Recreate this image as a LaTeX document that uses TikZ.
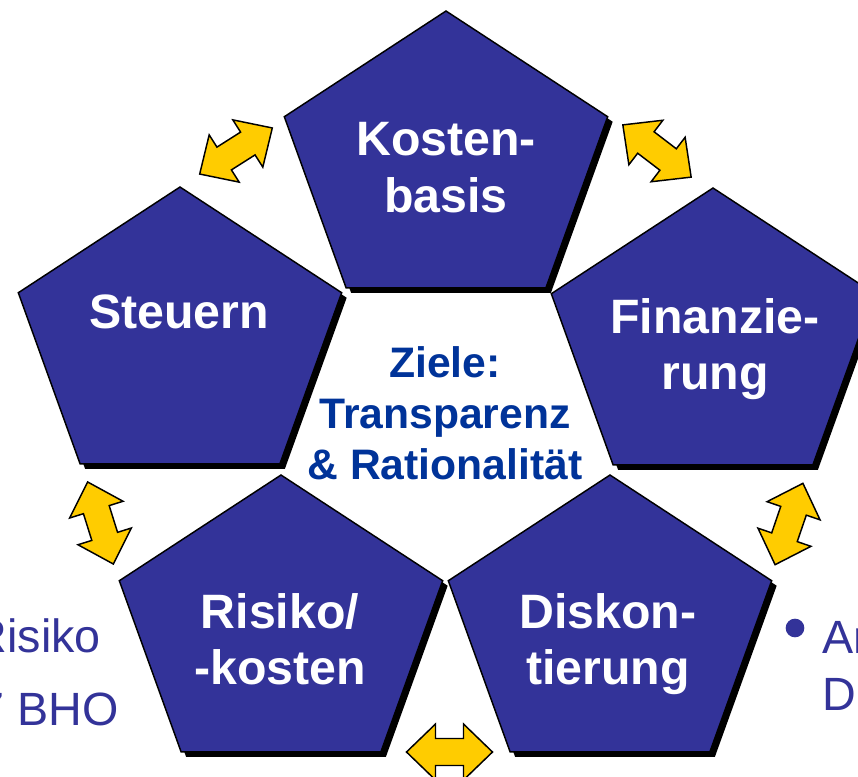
\documentclass[tikz,border=0pt]{standalone}
\usepackage{fontspec}
\setmainfont{Liberation Sans}
\definecolor{pentblue}{RGB}{51,51,153}
\definecolor{zielblue}{RGB}{0,51,153}
\definecolor{arrowyellow}{RGB}{255,204,0}

\tikzset{
	pentagon/.pic = {
		\fill[black, shift = {(5,5)}] (-90:170 and 153) -- (-162:170 and 153) -- (-234:170 and 153) -- (-306:170 and 153) -- (-18:170 and 153) -- cycle;
		\draw[fill = pentblue, line width = 1.1pt] (-90:170 and 153) -- (-162:170 and 153) -- (-234:170 and 153) -- (-306:170 and 153) -- (-18:170 and 153) -- cycle;
	},
	dblarrow/.pic = {
		\draw[fill = arrowyellow, line width = 1.1pt] (-43,0) -- (-14,-28) -- (-14,-13.5) -- (14,-13.5) -- (14,-28) -- (43,0) -- (14,28) -- (14,13.5) -- (-14,13.5) -- (-14,28) -- cycle;
	}
}

\begin{document}
\begin{tikzpicture}[x = 0.75pt, y = -0.75pt,
	penttext/.style = {text = white, font = \fontsize{36.2}{42.5}\selectfont\bfseries, align = center, inner sep = 0pt, anchor = north},
	sidetext/.style = {text = pentblue, font = \fontsize{35}{41}\selectfont, inner sep = 0pt}]
	\useasboundingbox (0,0) rectangle (858,776);
	\clip (0,0) rectangle (858,776);

	\foreach \n/\x/\y in {kosten/446/164, steuern/180/340, finanz/713/341, risiko/281/628, diskont/610/628}
		\coordinate (\n) at (\x,\y);
	\foreach \n in {kosten, steuern, finanz, risiko, diskont}
		\pic at (\n) {pentagon};

	\node[penttext] (kostenbasis) at (446,122) {Kosten-\\basis};
	\node[penttext] (steuernT) at (179,295) {Steuern};
	\node[penttext] (finanzierung) at (715,298) {Finanzie-\\rung};
	\node[penttext] (risikokosten) at (280,593) {Risiko/\\-kosten};
	\node[penttext] (diskontierung) at (608,593) {Diskon-\\tierung};

	\node[text = zielblue, font = \fontsize{32}{38.5}\selectfont\bfseries, align = center, inner sep = 0pt, anchor = north] (ziele) at (445,346) {Ziele:\\Transparenz\\\& Rationalität};

	\pic[rotate = 32.4] (arrowSK) at (236,151) {dblarrow};
	\pic[rotate = -37.4] (arrowKF) at (657,151) {dblarrow};
	\pic[rotate = -72.6] (arrowSR) at (100.5,523) {dblarrow};
	\pic[rotate = 71.1] (arrowFD) at (789,524) {dblarrow};
	\pic (arrowRD) at (449.5,752) {dblarrow};

	\node[sidetext, anchor = base east] (risikoL) at (101,652) {Risiko};
	\node[sidetext, anchor = base east] (bhoL) at (119,725) {7 BHO};
	\node[circle, fill = pentblue, minimum size = 14pt, inner sep = 0pt] (bullet) at (795,628) {};
	\node[sidetext, anchor = base west] (anR) at (822,653) {An};
	\node[sidetext, anchor = base west] (dR) at (822,710) {D};
\end{tikzpicture}
\end{document}
